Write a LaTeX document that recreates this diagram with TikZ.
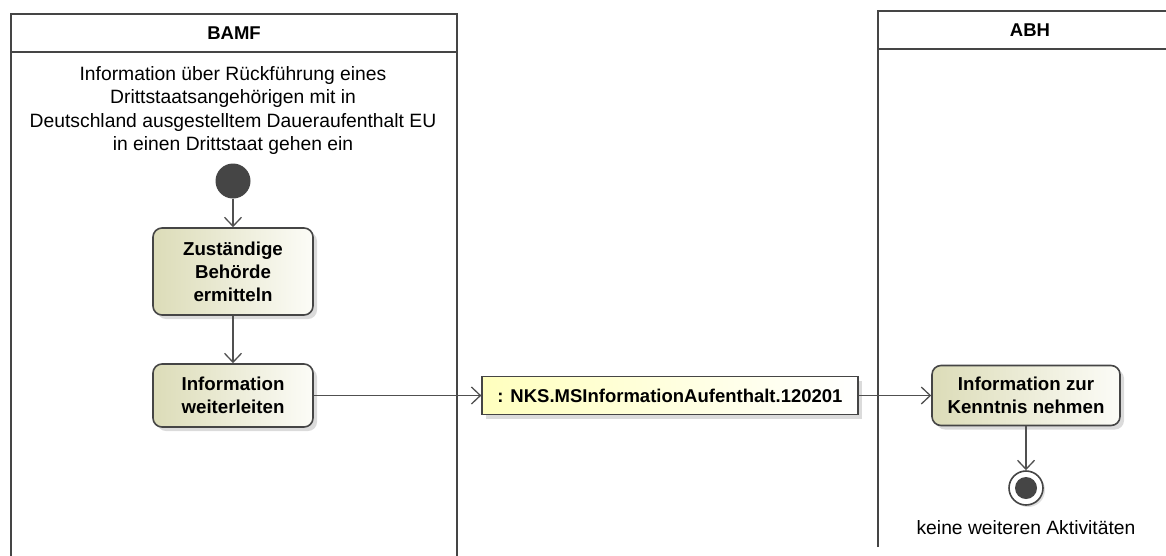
\documentclass[tikz,border=0pt]{standalone}
\usepackage{fontspec}
\setmainfont{Liberation Sans}
\usetikzlibrary{arrows.meta,shadows}

\definecolor{lanecol}{HTML}{454545}
\definecolor{flowcol}{HTML}{505050}
\definecolor{actleft}{HTML}{DCDCB8}
\definecolor{actright}{HTML}{FCFCF7}
\definecolor{objleft}{HTML}{FFFFBE}

\begin{document}
\begin{tikzpicture}[x=1pt, y=-1pt, >={Straight Barb[length=9pt,width=17pt]},
		font=\fontsize{19.3}{23.3}\selectfont,
		lane/.style={draw=lanecol, line width=2.6pt},
		flow/.style={draw=flowcol, line width=1.3pt, ->},
		action/.style={draw=lanecol, line width=1.6pt, rounded corners=9pt,
			left color=actleft, right color=actright, align=center, inner sep=0pt,
			font=\fontsize{18.7}{23}\selectfont\bfseries,
			drop shadow={shadow xshift=4pt, shadow yshift=-4pt, fill=black!28}},
		object/.style={draw=lanecol, line width=1.3pt,
			left color=objleft, right color=white, inner sep=0pt,
			font=\fontsize{18.5}{23}\selectfont\bfseries,
			drop shadow={shadow xshift=4pt, shadow yshift=-4pt, fill=black!28}}]
		\useasboundingbox (0,0) rectangle (1166,555);
		% swimlanes
		\draw[lane] (11,560) -- (11,14) -- (457,14) -- (457,560);
		\draw[lane] (11,52) -- (457,52);
		\node[font=\fontsize{18.5}{23}\selectfont\bfseries] (bamf) at (234,33) {BAMF};
		\draw[lane] (878,547) -- (878,11) -- (1172,11);
		\draw[lane] (878,49) -- (1172,49);
		\node[font=\fontsize{18.5}{23}\selectfont\bfseries] (abh) at (1030,30) {ABH};
		% BAMF
		\node[align=center] (trigger) at (233,110.5) {Information über Rückführung eines\\Drittstaatsangehörigen mit in\\Deutschland ausgestelltem Daueraufenthalt EU\\in einen Drittstaat gehen ein};
		\node[circle, fill=lanecol, minimum size=35pt, inner sep=0pt] (start) at (233,181) {};
		\node[action, minimum width=160pt, minimum height=87pt] (ermitteln) at (233,271.5) {Zuständige\\Behörde\\ermitteln};
		\node[action, minimum width=160pt, minimum height=63pt] (weiterleiten) at (233,395.5) {Information\\weiterleiten};
		\node[object, minimum width=376pt, minimum height=38pt] (msg) at (670,395.5) {: NKS.MSInformationAufenthalt.120201};
		% ABH
		\node[action, minimum width=188pt, minimum height=60pt] (kenntnis) at (1026,395.5) {Information zur\\Kenntnis nehmen};
		\node[circle, draw=lanecol, fill=white, line width=1.6pt, minimum size=34pt, inner sep=0pt,
			drop shadow={shadow xshift=2pt, shadow yshift=-2pt, fill=black!25},
			path picture={\fill[lanecol] (path picture bounding box.center) circle (11pt);}] (ende) at (1026,488) {};
		\node (endlabel) at (1026,528) {keine weiteren Aktivitäten};
		% flows
		\draw[flow] (start) -- (ermitteln);
		\draw[flow] (ermitteln) -- (weiterleiten);
		\draw[flow] (weiterleiten) -- (msg);
		\draw[flow] (msg) -- (kenntnis);
		\draw[flow] (kenntnis) -- (ende);
	\end{tikzpicture}
\end{document}
